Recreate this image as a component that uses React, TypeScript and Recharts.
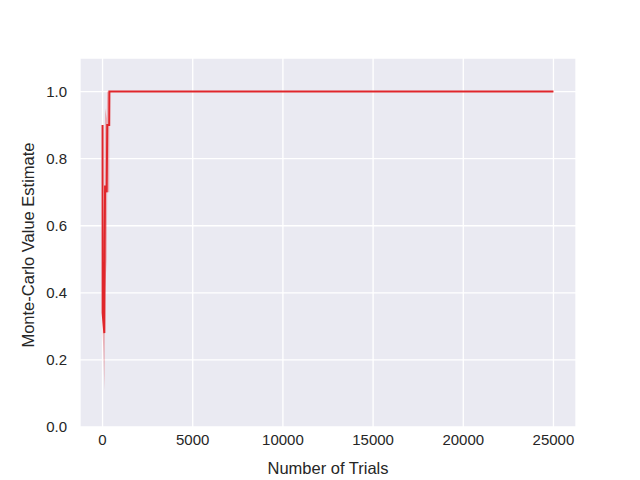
import React from 'react';
import { ComposedChart, Line, Area, XAxis, YAxis, CartesianGrid } from 'recharts';

// Monte-Carlo estimate vs. number of trials (mean line + confidence band)
const trials = [0, 5, 50, 100, 120, 140, 230, 260, 370, 380, 500, 1000, 5000, 10000, 15000, 20000, 25000];
const estimates = [0.9, 0.34, 0.31, 0.28, 0.55, 0.72, 0.7, 0.9, 0.9, 1.0, 1.0, 1.0, 1.0, 1.0, 1.0, 1.0, 1.0];
const lower = [0.88, 0.28, 0.22, 0.11, 0.2, 0.4, 0.5, 0.7, 0.7, 1.0, 1.0, 1.0, 1.0, 1.0, 1.0, 1.0, 1.0];
const upper = [0.92, 0.42, 0.4, 0.48, 0.8, 0.95, 0.92, 1.0, 1.0, 1.0, 1.0, 1.0, 1.0, 1.0, 1.0, 1.0, 1.0];

const xTicks = [0, 5000, 10000, 15000, 20000, 25000];
const yTicks = [0, 0.2, 0.4, 0.6, 0.8, 1.0];

const data = trials.map((t, i) => ({
	trial: t,
	estimate: estimates[i],
	band: [lower[i], upper[i]],
}));

const FONT = '"Liberation Sans", Arial, sans-serif';
const RED = '#e0262b';

function YLabel() {
	return (
		<text
			x={34}
			y={245}
			transform="rotate(-90 34 245)"
			textAnchor="middle"
			fontSize={16.5}
			fontFamily={FONT}
			fill="#262626"
		>
			Monte-Carlo Value Estimate
		</text>
	);
}

export default function App() {
	return (
		<div style={{ position: 'absolute', left: 0, top: 0, width: 640, height: 480, background: '#fff' }}>
			<ComposedChart
				width={640}
				height={480}
				data={data}
				margin={{ top: 58, right: 64, bottom: 0, left: 0 }}
			>
				<CartesianGrid fill="#EAEAF2" stroke="#ffffff" strokeWidth={1.3} />
				<XAxis
					type="number"
					dataKey="trial"
					domain={[-1250, 26250]}
					ticks={xTicks}
					allowDataOverflow
					axisLine={false}
					tickLine={false}
					tickSize={0}
					tickMargin={7}
					height={53}
					tick={{ fill: '#262626', fontSize: 15, fontFamily: FONT }}
					label={{ value: 'Number of Trials', position: 'insideBottom', offset: 6, fill: '#262626', fontSize: 16.5, fontFamily: FONT }}
				/>
				<YAxis
					type="number"
					domain={[0, 1.1]}
					ticks={yTicks}
					allowDataOverflow
					axisLine={false}
					tickLine={false}
					tickSize={0}
					tickMargin={13}
					width={80}
					tickFormatter={(v: number) => v.toFixed(1)}
					tick={{ fill: '#262626', fontSize: 15, fontFamily: FONT }}
					label={<YLabel />}
				/>
				<Area
					dataKey="band"
					type="linear"
					stroke="none"
					fill={RED}
					fillOpacity={0.3}
					isAnimationActive={false}
				/>
				<Line
					dataKey="estimate"
					type="linear"
					stroke={RED}
					strokeWidth={2}
					dot={false}
					isAnimationActive={false}
				/>
			</ComposedChart>
		</div>
	);
}
